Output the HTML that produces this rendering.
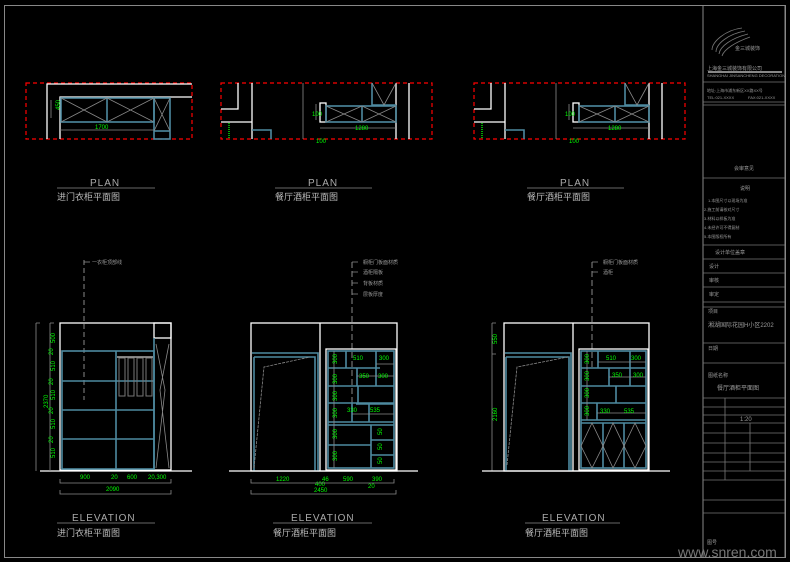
<!DOCTYPE html>
<html><head><meta charset="utf-8"><style>
html,body{margin:0;padding:0;background:#000;width:790px;height:562px;overflow:hidden}
svg{display:block}
text{font-family:"Liberation Sans","Noto Sans CJK SC",sans-serif}
.w{stroke:#fff;fill:none;stroke-width:1.3}
.b{stroke:#4e8aa0;fill:none;stroke-width:1.6}
.g{stroke:#8a8a8a;fill:none;stroke-width:0.8}
.r{stroke:#f00;fill:none;stroke-width:1.2;stroke-dasharray:4,3}
.gt{fill:#00ff00;font-size:6px}
.tt{fill:#9a9a9a;font-size:5px}
.cn{fill:#bbb;font-size:9px}
.pl{fill:#aaa;font-size:10px;letter-spacing:1px}
</style></head><body>
<svg width="790" height="562" viewBox="0 0 790 562">
<rect x="4.5" y="5.5" width="781" height="552" fill="none" stroke="#888" stroke-width="1"/>

<!-- PLAN 1 -->
<rect class="r" x="26" y="83" width="166" height="56"/>
<path class="w" d="M47 139V84H192M192 97H60V139"/>
<rect class="b" x="61" y="98" width="93" height="24"/>
<path class="b" d="M107 98V122"/>
<path class="g" d="M61 98L107 122M107 98L61 122M107 98L154 122M154 98L107 122M60 130H154"/>
<rect class="b" x="154" y="98" width="16" height="41"/>
<path class="b" d="M154 131H170"/>
<path class="g" d="M154 98L170 131M170 98L154 131M51 100V118"/>
<text class="gt" x="95" y="129">1700</text>
<text class="gt" x="55" y="115" transform="rotate(-90 55 110)">450</text>

<!-- PLAN 2 & 3 -->
<g id="p2">
<rect class="r" x="221" y="83" width="211" height="56"/>
<path class="w" d="M238 83V109H221M252 83V139M221 122H252M396 83V139M409 83V139"/>
<rect class="w" x="320" y="103" width="6" height="19"/>
<path class="b" d="M252 130H271V139"/>
<rect class="b" x="326" y="106" width="70" height="16"/>
<path class="b" d="M362 106V122M372 83V105H396"/>
<path class="g" d="M326 106L362 122M362 106L326 122M362 106L396 122M396 106L362 122M372 83L384 105L396 83M320 128H396M316 104V120M303 83V139"/>
<path d="M229 123V139" stroke="#0a0" stroke-width="2" stroke-dasharray="1,1"/>
<text class="gt" x="355" y="130">1280</text>
<text class="gt" x="312" y="116">100</text>
<text class="gt" x="316" y="143">100</text>
</g>
<use href="#p2" x="253"/>

<!-- plan titles -->
<g class="pl"><text x="90" y="186">PLAN</text><text x="308" y="186">PLAN</text><text x="560" y="186">PLAN</text></g>
<path class="g" d="M57 188H155M275 188H372M527 188H624"/>
<g class="cn"><text x="57" y="200">进门衣柜平面图</text><text x="275" y="200">餐厅酒柜平面图</text><text x="527" y="200">餐厅酒柜平面图</text></g>

<!-- ELEVATION 1 -->
<path d="M84 260V400" stroke="#888" stroke-dasharray="5,3"/>
<path class="g" d="M84 262H90"/><text class="tt" x="92" y="264">一衣柜顶部线</text>
<rect class="w" x="60" y="323" width="111" height="147"/>
<rect class="w" x="154" y="323" width="17" height="15"/>
<rect class="b" x="62" y="351" width="92" height="118"/>
<path class="b" d="M116 351V469M62 381H154M62 410H154M62 439H154M154 338V469"/>
<path d="M117 357H153" stroke="#aaa" stroke-width="1.5"/>
<g fill="none" stroke="#777" stroke-width="1"><rect x="119" y="358" width="6" height="38"/><rect x="128" y="358" width="6" height="38"/><rect x="137" y="358" width="6" height="38"/><rect x="146" y="358" width="6" height="38"/></g>
<path class="g" d="M156 344L165 390L156 468M169 344L160 390L169 468"/>
<path class="w" d="M40 471H192"/>
<path class="g" d="M36 323V471M50 323V471M36 323H40M50 323H54M60 479V483H171V479M60 490V494H171V490"/>
<g class="gt"><text x="30" y="410" transform="rotate(-90 38 400)">2370</text>
<text x="47" y="345" transform="rotate(-90 50 340)">500</text>
<text x="48" y="356" transform="rotate(-90 50 353)">20</text>
<text x="47" y="373" transform="rotate(-90 50 368)">510</text>
<text x="48" y="386" transform="rotate(-90 50 383)">20</text>
<text x="47" y="402" transform="rotate(-90 50 397)">510</text>
<text x="48" y="415" transform="rotate(-90 50 412)">20</text>
<text x="47" y="431" transform="rotate(-90 50 426)">510</text>
<text x="48" y="444" transform="rotate(-90 50 441)">20</text>
<text x="47" y="460" transform="rotate(-90 50 455)">510</text>
<text x="80" y="479">900</text><text x="111" y="479">20</text><text x="127" y="479">600</text><text x="148" y="479">20,300</text><text x="106" y="491">2090</text></g>

<!-- ELEVATION 2 -->
<path d="M352 262V422" stroke="#888" stroke-dasharray="6,3"/>
<path class="g" d="M352 262H358M352 272H358M352 283H358M352 294H358"/>
<g class="tt"><text x="363" y="264">橱柜门板面材质</text><text x="363" y="274">酒柜隔板</text><text x="363" y="285">背板材质</text><text x="363" y="296">层板厚度</text></g>
<rect class="w" x="251" y="323" width="146" height="148"/>
<path class="w" d="M320 323V471"/>
<path class="b" d="M252 353H318V471M254 357H315V471M254 357V471"/>
<path class="g" d="M254 468L264 367L310 357" stroke-dasharray="3,1"/>
<rect class="w" x="326" y="349" width="70" height="121"/>
<rect class="b" x="328" y="351" width="66" height="117"/>
<path class="b" d="M328 368H380M346 351V368M376 351V368M328 386H394M357 368V386M376 368V386M356 404H394M328 403H394M358 386V403M328 422H394M328 425H394M371 425V468M328 445H371M371 440H394M371 455H394M352 403V422M369 403V422"/>
<path class="g" d="M334 351V468M376 364H394M357 376H394M352 414H394"/>
<g class="gt"><text x="353" y="360">510</text><text x="379" y="360">300</text><text x="359" y="378">350</text><text x="378" y="378">300</text><text x="347" y="412">330</text><text x="370" y="412">535</text>
<text x="328" y="365" transform="rotate(-90 332 360)">300</text><text x="328" y="385" transform="rotate(-90 332 380)">300</text>
<text x="328" y="402" transform="rotate(-90 332 397)">300</text><text x="328" y="419" transform="rotate(-90 332 414)">300</text>
<text x="328" y="440" transform="rotate(-90 332 435)">300</text><text x="328" y="462" transform="rotate(-90 332 457)">300</text>
<text x="373" y="436" transform="rotate(-90 377 431)">50</text><text x="373" y="451" transform="rotate(-90 377 446)">50</text><text x="373" y="465" transform="rotate(-90 377 460)">50</text>
<text x="276" y="481">1220</text><text x="322" y="481">46</text><text x="343" y="481">590</text><text x="372" y="481">390</text><text x="315" y="486">400</text><text x="314" y="492">2450</text><text x="368" y="488">20</text></g>
<path class="w" d="M229 471H418"/>
<path class="g" d="M251 479V483H394V479M251 490V494H396V490"/>

<!-- ELEVATION 3 -->
<path d="M592 262V370" stroke="#888" stroke-dasharray="6,3"/>
<path class="g" d="M592 262H598M592 272H598"/>
<g class="tt"><text x="603" y="264">橱柜门板面材质</text><text x="603" y="274">酒柜</text></g>
<rect class="w" x="504" y="323" width="145" height="148"/>
<path class="w" d="M573 323V471"/>
<path class="b" d="M505 353H571V471M506 357H569V471M506 357V471"/>
<path class="g" d="M507 465L517 367L568 357" stroke-dasharray="3,1"/>
<rect class="w" x="579" y="349" width="69" height="121"/>
<rect class="b" x="581" y="351" width="65" height="117"/>
<path class="b" d="M581 368H646M598 351V368M630 351V368M609 368V386M630 368V386M581 386H646M616 386V403M581 403H646M597 403V420M581 420H646M581 423H646M603 423V468M624 423V468"/>
<path class="g" d="M587 351V420M598 362H646M609 377H646M597 413H646M581 446L592 423L603 446L592 468ZM603 446L613 423L624 446L613 468ZM624 446L635 423L646 446L635 468Z"/>
<g class="gt"><text x="606" y="360">510</text><text x="631" y="360">300</text><text x="612" y="377">350</text><text x="633" y="377">300</text><text x="600" y="413">330</text><text x="624" y="413">535</text>
<text x="580" y="365" transform="rotate(-90 584 360)">300</text><text x="580" y="382" transform="rotate(-90 584 377)">300</text>
<text x="580" y="399" transform="rotate(-90 584 394)">300</text><text x="580" y="417" transform="rotate(-90 584 412)">300</text>
<text x="488" y="345" transform="rotate(-90 492 340)">550</text><text x="486" y="420" transform="rotate(-90 492 415)">2160</text></g>
<path class="g" d="M492 323V471M492 323H496M492 354H496"/>
<path class="w" d="M482 471H670"/>

<!-- elevation titles -->
<g class="pl"><text x="72" y="521">ELEVATION</text><text x="291" y="521">ELEVATION</text><text x="542" y="521">ELEVATION</text></g>
<path class="g" d="M57 523H155M273 523H372M525 523H620"/>
<g class="cn"><text x="57" y="536">进门衣柜平面图</text><text x="273" y="536">餐厅酒柜平面图</text><text x="525" y="536">餐厅酒柜平面图</text></g>

<!-- TITLE BLOCK -->
<rect x="703" y="5.5" width="82" height="552" fill="none" stroke="#888"/>
<g stroke="#777" stroke-width="0.8" fill="none">
<path d="M703 82H785M703 102H785M703 105H785M703 178H785M703 245H785M703 259H785M703 273H785M703 287H785M703 302H785M703 307H785M703 343H785M703 363H785M703 398H785M703 407H785M703 415H785M703 423H785M703 433H785M703 443H785M703 453H785M703 462H785M703 471H785M703 480H785M703 500H785M703 513H785M725 398V480M750 423V471"/>
<path d="M742 28C725 30 712 42 712 50M745 31C728 34 716 44 716 52M748 34C732 38 720 46 719 54M750 37C736 42 724 49 722 56"/>
</g>
<path d="M708 72H782" stroke="#888" stroke-width="2"/>
<g class="tt" fill="#999">
<text x="735" y="50">金三城装饰</text>
<text x="707" y="70">上海金三城装饰有限公司</text>
<text x="707" y="77" font-size="4">SHANGHAI JINSANCHENG DECORATION</text>
<text x="707" y="92" font-size="4">地址:上海市浦东新区XX路XX号</text>
<text x="707" y="99" font-size="4">TEL:021-XXXX</text><text x="748" y="99" font-size="4">FAX:021-XXXX</text>
<text x="734" y="170">会审意见</text>
<text x="740" y="190">说明</text>
<text x="708" y="202" font-size="4">1.本图尺寸以现场为准</text>
<text x="704" y="211" font-size="4">2.施工前请核对尺寸</text>
<text x="704" y="220" font-size="4">3.材料以样板为准</text>
<text x="704" y="229" font-size="4">4.未经许可不得复制</text>
<text x="704" y="238" font-size="4">5.本图版权所有</text>
<text x="715" y="254">设计单位盖章</text>
<text x="709" y="268">设计</text>
<text x="709" y="282">审核</text>
<text x="709" y="296">审定</text>
<text x="708" y="313">项目</text>
<text x="708" y="327" font-size="6">湘湖国际花园H小区2202</text>
<text x="708" y="350">日期</text>
<text x="708" y="377">图纸名称</text>
<text x="717" y="390" font-size="6">餐厅酒柜平面图</text>
<text x="740" y="421" font-size="6">1:20</text>
<text x="707" y="544">图号</text>
</g>
<text x="678" y="557" font-family="Liberation Serif,serif" font-size="14" fill="#777">www.snren.com</text>
</svg>
</body></html>
